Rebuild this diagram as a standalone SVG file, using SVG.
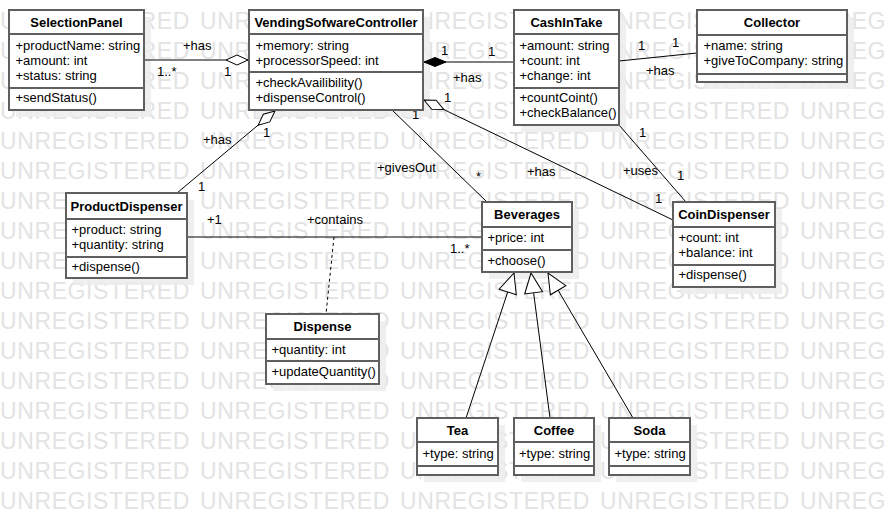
<svg xmlns="http://www.w3.org/2000/svg" width="886" height="515" viewBox="0 0 886 515">
  <style>
    text { font-family: "Liberation Sans", Arial, sans-serif; font-size: 13px; fill: #000; }
    .title { font-weight: bold; text-anchor: middle; }
    .wm { font-size: 23px; fill: #e3e3e3; letter-spacing: 0.6px; }
    .frame { fill: #fff; stroke: #5f5f5f; stroke-width: 2; }
    .sep { stroke: #5f5f5f; stroke-width: 2; }
    .shadow { fill: #ececec; opacity: 0.85; }
    .edge { stroke: #000; stroke-width: 1; fill: none; }
    .dash { stroke-dasharray: 3 3; }
  </style>
  <defs>
    <!-- hollow diamond: aggregation -->
    <marker id="agg" markerUnits="userSpaceOnUse" orient="auto" overflow="visible" markerWidth="1" markerHeight="1">
      <path d="M0,0 L-11,-5 L-22,0 L-11,5 Z" fill="#fff" stroke="#000" stroke-width="1"/>
    </marker>
    <!-- filled diamond: composition -->
    <marker id="comp" markerUnits="userSpaceOnUse" orient="auto" overflow="visible" markerWidth="1" markerHeight="1">
      <path d="M0,0 L-11,-4.5 L-22,0 L-11,4.5 Z" fill="#000" stroke="#000" stroke-width="1"/>
    </marker>
    <!-- hollow triangle: generalization -->
    <marker id="gen" markerUnits="userSpaceOnUse" orient="auto" overflow="visible" markerWidth="1" markerHeight="1">
      <path d="M0,0 L-20,-9 L-20,9 Z" fill="#fff" stroke="#000" stroke-width="1"/>
    </marker>
  </defs>

  <rect width="886" height="515" fill="#fff"/>

  <!-- background stamp rows -->
  <g id="watermark">
    <text class="wm" y="29"><tspan x="0">UNREGISTERED</tspan><tspan x="200">UNREGISTERED</tspan><tspan x="400">UNREGISTERED</tspan><tspan x="600">UNREGISTERED</tspan><tspan x="800">UNREG</tspan></text>
    <text class="wm" y="59"><tspan x="0">UNREGISTERED</tspan><tspan x="200">UNREGISTERED</tspan><tspan x="400">UNREGISTERED</tspan><tspan x="600">UNREGISTERED</tspan><tspan x="800">UNREG</tspan></text>
    <text class="wm" y="89"><tspan x="0">UNREGISTERED</tspan><tspan x="200">UNREGISTERED</tspan><tspan x="400">UNREGISTERED</tspan><tspan x="600">UNREGISTERED</tspan><tspan x="800">UNREG</tspan></text>
    <text class="wm" y="119"><tspan x="0">UNREGISTERED</tspan><tspan x="200">UNREGISTERED</tspan><tspan x="400">UNREGISTERED</tspan><tspan x="600">UNREGISTERED</tspan><tspan x="800">UNREG</tspan></text>
    <text class="wm" y="149"><tspan x="0">UNREGISTERED</tspan><tspan x="200">UNREGISTERED</tspan><tspan x="400">UNREGISTERED</tspan><tspan x="600">UNREGISTERED</tspan><tspan x="800">UNREG</tspan></text>
    <text class="wm" y="179"><tspan x="0">UNREGISTERED</tspan><tspan x="200">UNREGISTERED</tspan><tspan x="400">UNREGISTERED</tspan><tspan x="600">UNREGISTERED</tspan><tspan x="800">UNREG</tspan></text>
    <text class="wm" y="209"><tspan x="0">UNREGISTERED</tspan><tspan x="200">UNREGISTERED</tspan><tspan x="400">UNREGISTERED</tspan><tspan x="600">UNREGISTERED</tspan><tspan x="800">UNREG</tspan></text>
    <text class="wm" y="239"><tspan x="0">UNREGISTERED</tspan><tspan x="200">UNREGISTERED</tspan><tspan x="400">UNREGISTERED</tspan><tspan x="600">UNREGISTERED</tspan><tspan x="800">UNREG</tspan></text>
    <text class="wm" y="269"><tspan x="0">UNREGISTERED</tspan><tspan x="200">UNREGISTERED</tspan><tspan x="400">UNREGISTERED</tspan><tspan x="600">UNREGISTERED</tspan><tspan x="800">UNREG</tspan></text>
    <text class="wm" y="299"><tspan x="0">UNREGISTERED</tspan><tspan x="200">UNREGISTERED</tspan><tspan x="400">UNREGISTERED</tspan><tspan x="600">UNREGISTERED</tspan><tspan x="800">UNREG</tspan></text>
    <text class="wm" y="329"><tspan x="0">UNREGISTERED</tspan><tspan x="200">UNREGISTERED</tspan><tspan x="400">UNREGISTERED</tspan><tspan x="600">UNREGISTERED</tspan><tspan x="800">UNREG</tspan></text>
    <text class="wm" y="359"><tspan x="0">UNREGISTERED</tspan><tspan x="200">UNREGISTERED</tspan><tspan x="400">UNREGISTERED</tspan><tspan x="600">UNREGISTERED</tspan><tspan x="800">UNREG</tspan></text>
    <text class="wm" y="389"><tspan x="0">UNREGISTERED</tspan><tspan x="200">UNREGISTERED</tspan><tspan x="400">UNREGISTERED</tspan><tspan x="600">UNREGISTERED</tspan><tspan x="800">UNREG</tspan></text>
    <text class="wm" y="419"><tspan x="0">UNREGISTERED</tspan><tspan x="200">UNREGISTERED</tspan><tspan x="400">UNREGISTERED</tspan><tspan x="600">UNREGISTERED</tspan><tspan x="800">UNREG</tspan></text>
    <text class="wm" y="449"><tspan x="0">UNREGISTERED</tspan><tspan x="200">UNREGISTERED</tspan><tspan x="400">UNREGISTERED</tspan><tspan x="600">UNREGISTERED</tspan><tspan x="800">UNREG</tspan></text>
    <text class="wm" y="479"><tspan x="0">UNREGISTERED</tspan><tspan x="200">UNREGISTERED</tspan><tspan x="400">UNREGISTERED</tspan><tspan x="600">UNREGISTERED</tspan><tspan x="800">UNREG</tspan></text>
    <text class="wm" y="509"><tspan x="0">UNREGISTERED</tspan><tspan x="200">UNREGISTERED</tspan><tspan x="400">UNREGISTERED</tspan><tspan x="600">UNREGISTERED</tspan><tspan x="800">UNREG</tspan></text>
  </g>

  <!-- drop shadows under the class boxes -->
  <g id="shadows">
    <rect class="shadow" x="16" y="17" width="135" height="100"/>
    <rect class="shadow" x="256" y="17" width="174" height="100"/>
    <rect class="shadow" x="521" y="17" width="105" height="115"/>
    <rect class="shadow" x="704" y="17" width="150" height="72"/>
    <rect class="shadow" x="73" y="200" width="121" height="85"/>
    <rect class="shadow" x="489" y="209" width="90" height="70"/>
    <rect class="shadow" x="680" y="209" width="102" height="85"/>
    <rect class="shadow" x="273" y="321" width="113" height="70"/>
    <rect class="shadow" x="424" y="425" width="81" height="57"/>
    <rect class="shadow" x="521" y="425" width="80" height="57"/>
    <rect class="shadow" x="616" y="425" width="81" height="57"/>
  </g>

  <!-- associations -->
  <g id="connectors">
    <!-- SelectionPanel - VendingSofwareController -->
    <path class="edge" d="M144,60 H248" marker-end="url(#agg)"/>
    <text x="183" y="50">+has</text>
    <text x="157" y="76">1..*</text>
    <text x="224" y="76">1</text>

    <!-- CashInTake - VendingSofwareController -->
    <path class="edge" d="M514,62 H424" marker-end="url(#comp)"/>
    <text x="441" y="55">1</text>
    <text x="488" y="56">1</text>
    <text x="453" y="82">+has</text>

    <!-- CashInTake - Collector -->
    <path class="edge" d="M619,61 L697,53"/>
    <text x="638" y="50">1</text>
    <text x="672" y="47">1</text>
    <text x="646" y="75">+has</text>

    <!-- ProductDispenser - VendingSofwareController -->
    <path class="edge" d="M177,193 L275,111" marker-end="url(#agg)"/>
    <text x="203" y="144">+has</text>
    <text x="263" y="137">1</text>
    <text x="198" y="191">1</text>

    <!-- VendingSofwareController - Beverages -->
    <path class="edge" d="M392,110 L487,202"/>
    <text x="412" y="119">1</text>
    <text x="476" y="181">*</text>
    <text x="377" y="172">+givesOut</text>

    <!-- CoinDispenser - VendingSofwareController -->
    <path class="edge" d="M673,220 L424,100" marker-end="url(#agg)"/>
    <text x="444" y="102">1</text>
    <text x="527" y="176">+has</text>
    <text x="655" y="203">1</text>

    <!-- CashInTake - CoinDispenser -->
    <path class="edge" d="M619,125 L686,202"/>
    <text x="639" y="137">1</text>
    <text x="623" y="175">+uses</text>
    <text x="677" y="180">1</text>

    <!-- ProductDispenser - Beverages -->
    <path class="edge" d="M187,237 H482"/>
    <text x="207" y="224">+1</text>
    <text x="307" y="224">+contains</text>
    <text x="450" y="253">1..*</text>

    <!-- association class link -->
    <path class="edge dash" d="M334,237 L326,314"/>

    <!-- Tea / Coffee / Soda generalize Beverages -->
    <path class="edge" d="M466,418 L514,273" marker-end="url(#gen)"/>
    <path class="edge" d="M550,418 L531,273" marker-end="url(#gen)"/>
    <path class="edge" d="M633,418 L548,273" marker-end="url(#gen)"/>
  </g>

  <g id="SelectionPanel">
    <rect class="frame" x="9" y="10" width="135" height="100"/>
    <line class="sep" x1="9" y1="34" x2="144" y2="34"/>
    <line class="sep" x1="9" y1="88" x2="144" y2="88"/>
    <text class="title" x="76.5" y="27">SelectionPanel</text>
    <text x="15.5" y="49.5">+productName: string</text>
    <text x="15.5" y="64.5">+amount: int</text>
    <text x="15.5" y="79.5">+status: string</text>
    <text x="15.5" y="102">+sendStatus()</text>
  </g>

  <g id="VendingSofwareController">
    <rect class="frame" x="249" y="10" width="174" height="100"/>
    <line class="sep" x1="249" y1="34" x2="423" y2="34"/>
    <line class="sep" x1="249" y1="72" x2="423" y2="72"/>
    <text class="title" x="336" y="27">VendingSofwareController</text>
    <text x="255.5" y="49.5">+memory: string</text>
    <text x="255.5" y="64.5">+processorSpeed: int</text>
    <text x="255.5" y="87">+checkAvailibility()</text>
    <text x="255.5" y="102">+dispenseControl()</text>
  </g>

  <g id="CashInTake">
    <rect class="frame" x="514" y="10" width="105" height="115"/>
    <line class="sep" x1="514" y1="34" x2="619" y2="34"/>
    <line class="sep" x1="514" y1="88" x2="619" y2="88"/>
    <text class="title" x="566.5" y="27">CashInTake</text>
    <text x="519.5" y="49.5">+amount: string</text>
    <text x="519.5" y="64.5">+count: int</text>
    <text x="519.5" y="79.5">+change: int</text>
    <text x="519.5" y="102">+countCoint()</text>
    <text x="519.5" y="117">+checkBalance()</text>
  </g>

  <g id="Collector">
    <rect class="frame" x="697" y="10" width="150" height="72"/>
    <line class="sep" x1="697" y1="35" x2="847" y2="35"/>
    <line class="sep" x1="697" y1="74" x2="847" y2="74"/>
    <text class="title" x="772" y="27">Collector</text>
    <text x="703.5" y="49.5">+name: string</text>
    <text x="703.5" y="64.5">+giveToCompany: string</text>
  </g>

  <g id="ProductDispenser">
    <rect class="frame" x="66" y="193" width="121" height="85"/>
    <line class="sep" x1="66" y1="219" x2="187" y2="219"/>
    <line class="sep" x1="66" y1="257" x2="187" y2="257"/>
    <text class="title" x="126.5" y="211">ProductDispenser</text>
    <text x="71.5" y="234">+product: string</text>
    <text x="71.5" y="249">+quantity: string</text>
    <text x="71.5" y="271">+dispense()</text>
  </g>

  <g id="Beverages">
    <rect class="frame" x="482" y="202" width="90" height="70"/>
    <line class="sep" x1="482" y1="227" x2="572" y2="227"/>
    <line class="sep" x1="482" y1="250" x2="572" y2="250"/>
    <text class="title" x="527" y="218.5">Beverages</text>
    <text x="487.5" y="242">+price: int</text>
    <text x="487.5" y="264.5">+choose()</text>
  </g>

  <g id="CoinDispenser">
    <rect class="frame" x="673" y="202" width="102" height="85"/>
    <line class="sep" x1="673" y1="227" x2="775" y2="227"/>
    <line class="sep" x1="673" y1="265" x2="775" y2="265"/>
    <text class="title" x="724" y="218.5">CoinDispenser</text>
    <text x="678.5" y="242">+count: int</text>
    <text x="678.5" y="257">+balance: int</text>
    <text x="678.5" y="279">+dispense()</text>
  </g>

  <g id="Dispense">
    <rect class="frame" x="266" y="314" width="113" height="70"/>
    <line class="sep" x1="266" y1="339" x2="379" y2="339"/>
    <line class="sep" x1="266" y1="361" x2="379" y2="361"/>
    <text class="title" x="322.5" y="330.5">Dispense</text>
    <text x="271.5" y="354">+quantity: int</text>
    <text x="271.5" y="376">+updateQuantity()</text>
  </g>

  <g id="Tea">
    <rect class="frame" x="417" y="418" width="81" height="57"/>
    <line class="sep" x1="417" y1="442" x2="498" y2="442"/>
    <line class="sep" x1="417" y1="466" x2="498" y2="466"/>
    <text class="title" x="457.5" y="435">Tea</text>
    <text x="422.5" y="457.5">+type: string</text>
  </g>

  <g id="Coffee">
    <rect class="frame" x="514" y="418" width="80" height="57"/>
    <line class="sep" x1="514" y1="442" x2="594" y2="442"/>
    <line class="sep" x1="514" y1="466" x2="594" y2="466"/>
    <text class="title" x="554" y="435">Coffee</text>
    <text x="519" y="457.5">+type: string</text>
  </g>

  <g id="Soda">
    <rect class="frame" x="609" y="418" width="81" height="57"/>
    <line class="sep" x1="609" y1="442" x2="690" y2="442"/>
    <line class="sep" x1="609" y1="466" x2="690" y2="466"/>
    <text class="title" x="649.5" y="435">Soda</text>
    <text x="614.5" y="457.5">+type: string</text>
  </g>
</svg>
